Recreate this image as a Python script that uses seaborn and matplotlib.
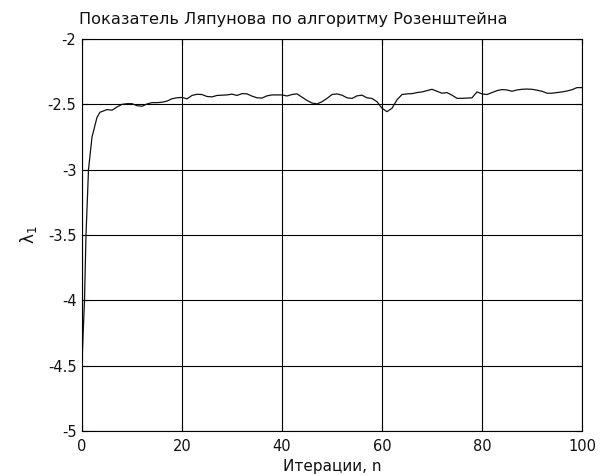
import matplotlib
matplotlib.use("Agg")
import matplotlib.pyplot as plt
import seaborn as sns
import pandas as pd

# Largest Lyapunov exponent estimate (Rosenstein algorithm) per iteration
iterations = [0, 0.2, 0.5, 0.8, 1.3, 2, 3, 3.6] + list(range(4, 101))
lyapunov = [
    -4.48, -4.28, -4.00, -3.50, -3.00, -2.75, -2.60, -2.56,
    -2.555, -2.540, -2.545, -2.520, -2.500, -2.495, -2.495, -2.510, -2.515, -2.497,
    -2.487, -2.487, -2.484, -2.475, -2.457, -2.450, -2.447, -2.458, -2.432, -2.423,
    -2.425, -2.440, -2.443, -2.432, -2.430, -2.428, -2.422, -2.432, -2.418, -2.420,
    -2.437, -2.450, -2.452, -2.435, -2.428, -2.428, -2.428, -2.436, -2.425, -2.420,
    -2.445, -2.470, -2.490, -2.497, -2.480, -2.455, -2.425, -2.420, -2.430, -2.450,
    -2.455, -2.435, -2.430, -2.450, -2.455, -2.480, -2.530, -2.556, -2.530, -2.465,
    -2.425, -2.420, -2.418, -2.410, -2.405, -2.395, -2.385, -2.400, -2.415, -2.410,
    -2.430, -2.454, -2.454, -2.452, -2.450, -2.405, -2.420, -2.425, -2.410, -2.395,
    -2.387, -2.390, -2.400, -2.390, -2.385, -2.383, -2.385, -2.392, -2.400, -2.415,
    -2.415, -2.410, -2.405, -2.398, -2.388, -2.372, -2.372,
]

x_ticks = [0, 20, 40, 60, 80, 100]
y_ticks = [-5, -4.5, -4, -3.5, -3, -2.5, -2]
y_tick_labels = ["-5", "-4.5", "-4", "-3.5", "-3", "-2.5", "-2"]

title = "Показатель Ляпунова по алгоритму Розенштейна"
x_label = "Итерации, n"
y_label = "λ$_1$"

sns.set_style("white")
plt.rcParams["font.family"] = ["DejaVu Sans"]
plt.rcParams["axes.unicode_minus"] = False
plt.rcParams["mathtext.fontset"] = "dejavusans"

df = pd.DataFrame({"n": iterations, "lam": lyapunov})

fig = plt.figure(figsize=(6.05, 4.75), dpi=100)
ax = fig.add_axes([82 / 605, 1 - 431 / 475, 500 / 605, 392 / 475])

sns.lineplot(data=df, x="n", y="lam", ax=ax, color="#111111", linewidth=0.9,
             estimator=None, sort=False)

ax.set_xlim(0, 100)
ax.set_ylim(-5, -2)
ax.set_xticks(x_ticks)
ax.set_xticklabels([str(t) for t in x_ticks])
ax.set_yticks(y_ticks)
ax.set_yticklabels(y_tick_labels)

ax.grid(True, color="black", linewidth=0.8, linestyle="-")
ax.set_axisbelow(True)
for side in ax.spines.values():
    side.set_color("black")
    side.set_linewidth(0.8)

ax.tick_params(axis="both", direction="in", length=4, width=0.8, color="black",
               labelsize=10.5, labelcolor="#111111", top=True, right=True,
               bottom=True, left=True)
ax.tick_params(axis="x", pad=6)
ax.tick_params(axis="y", pad=4)

ax.set_title(title, fontsize=11.6, color="#111111", x=0.422, pad=11)
ax.set_xlabel(x_label, fontsize=11, color="#111111", labelpad=3)
ax.set_ylabel(y_label, fontsize=12, color="#111111", labelpad=6)

fig.savefig("out.png", dpi=100, facecolor="white")
